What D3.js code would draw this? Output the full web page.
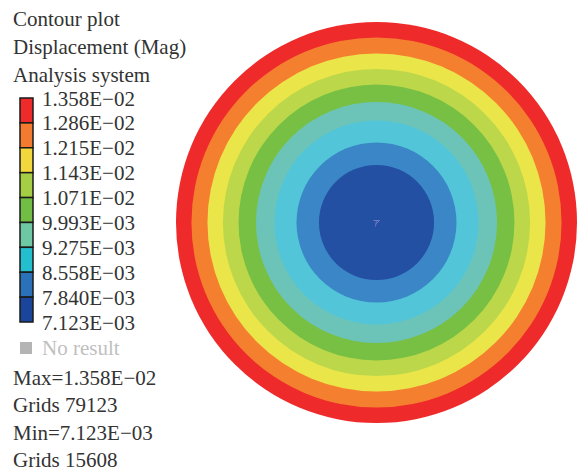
<!DOCTYPE html>
<html lang="en">
<head>
    <meta charset="UTF-8">
    <script src="https://cdn.jsdelivr.net/npm/d3@7"></script>
    <title>Contour plot</title>
    <style>
        body { margin: 0; background: #fff; }
        svg { display: block; }
    </style>
</head>
<body>
<script>
    // legend levels (top = max)
    var levels = ["1.358E\u221202", "1.286E\u221202", "1.215E\u221202", "1.143E\u221202", "1.071E\u221202",
                  "9.993E\u221203", "9.275E\u221203", "8.558E\u221203", "7.840E\u221203", "7.123E\u221203"];
    // outer radius of each band, fraction of plate radius (inner band first)
    var bandRadius = [0.287, 0.399, 0.509, 0.601, 0.688, 0.766, 0.843, 0.923, 1.0];
    var titleLines = ["Contour plot", "Displacement (Mag)", "Analysis system"];
    var infoLines = ["Max=1.358E\u221202", "Grids 79123", "Min=7.123E\u221203", "Grids 15608"];

    // colours, inner band (min) to outer band (max)
    var diskColors = ["#2350a2", "#3a86c6", "#52c6d8", "#6cc4b8", "#78c043", "#bcd84a", "#eae64a", "#f4802f", "#ee2a2a"];
    var legendColors = ["#1a459a", "#2b71ba", "#24bfcf", "#6ec8a4", "#72be44", "#a6ce44", "#f2d83c", "#f47a30", "#ee2a2a"];

    var FONT = "Liberation Serif";

    var W = 578, H = 472;
    var svg = d3.select("body").append("svg").attr("width", W).attr("height", H);

    // the plate
    var cx = 376.5, cy = 222.5;
    var r = d3.scaleLinear().domain([0, 1]).range([0, 200.5]);

    var bands = bandRadius.map((d, i) => ({r: d, color: diskColors[i]})).reverse();
    svg.append("g").selectAll("circle")
        .data(bands)
        .enter().append("circle")
        .attr("cx", cx).attr("cy", cy)
        .attr("r", d => r(d.r))
        .attr("fill", d => d.color);

    // little triad at centre
    var tri = svg.append("g").attr("stroke", "#9a8fd0").attr("stroke-width", 0.8).attr("opacity", 0.8);
    tri.append("line").attr("x1", cx - 3).attr("y1", cy - 2).attr("x2", cx + 3).attr("y2", cy - 2);
    tri.append("line").attr("x1", cx).attr("y1", cy - 2).attr("x2", cx - 1).attr("y2", cy + 4);
    tri.append("line").attr("x1", cx + 3).attr("y1", cy - 2).attr("x2", cx).attr("y2", cy + 1);

    var txt = svg.append("g").attr("font-family", FONT).attr("font-size", 21).attr("fill", "#333");

    // title
    txt.append("g").selectAll("text")
        .data(titleLines).enter().append("text")
        .attr("x", 13).attr("y", (d, i) => 26 + i * 27.8)
        .text(d => d);

    // legend
    var ly = d3.scaleLinear().domain([0, 9]).range([98, 322]);
    svg.append("g").selectAll("rect")
        .data(legendColors.slice().reverse())
        .enter().append("rect")
        .attr("x", 20).attr("width", 13)
        .attr("y", (d, i) => ly(i))
        .attr("height", ly(1) - ly(0))
        .attr("fill", d => d)
        .attr("stroke", "#1a1a1a").attr("stroke-width", 1.5);

    txt.append("g").selectAll("text")
        .data(levels).enter().append("text")
        .attr("x", 42).attr("y", (d, i) => ly(i) + 7.5)
        .text(d => d);

    // no result
    svg.append("rect").attr("x", 20).attr("y", 342).attr("width", 12).attr("height", 12).attr("fill", "#b4b4b4");
    txt.append("text").attr("x", 42).attr("y", 355).attr("fill", "#c0c0c0").text("No result");

    // min / max info
    txt.append("g").selectAll("text")
        .data(infoLines).enter().append("text")
        .attr("x", 13).attr("y", (d, i) => 385 + i * 27.4)
        .text(d => d);
</script>
</body>
</html>
